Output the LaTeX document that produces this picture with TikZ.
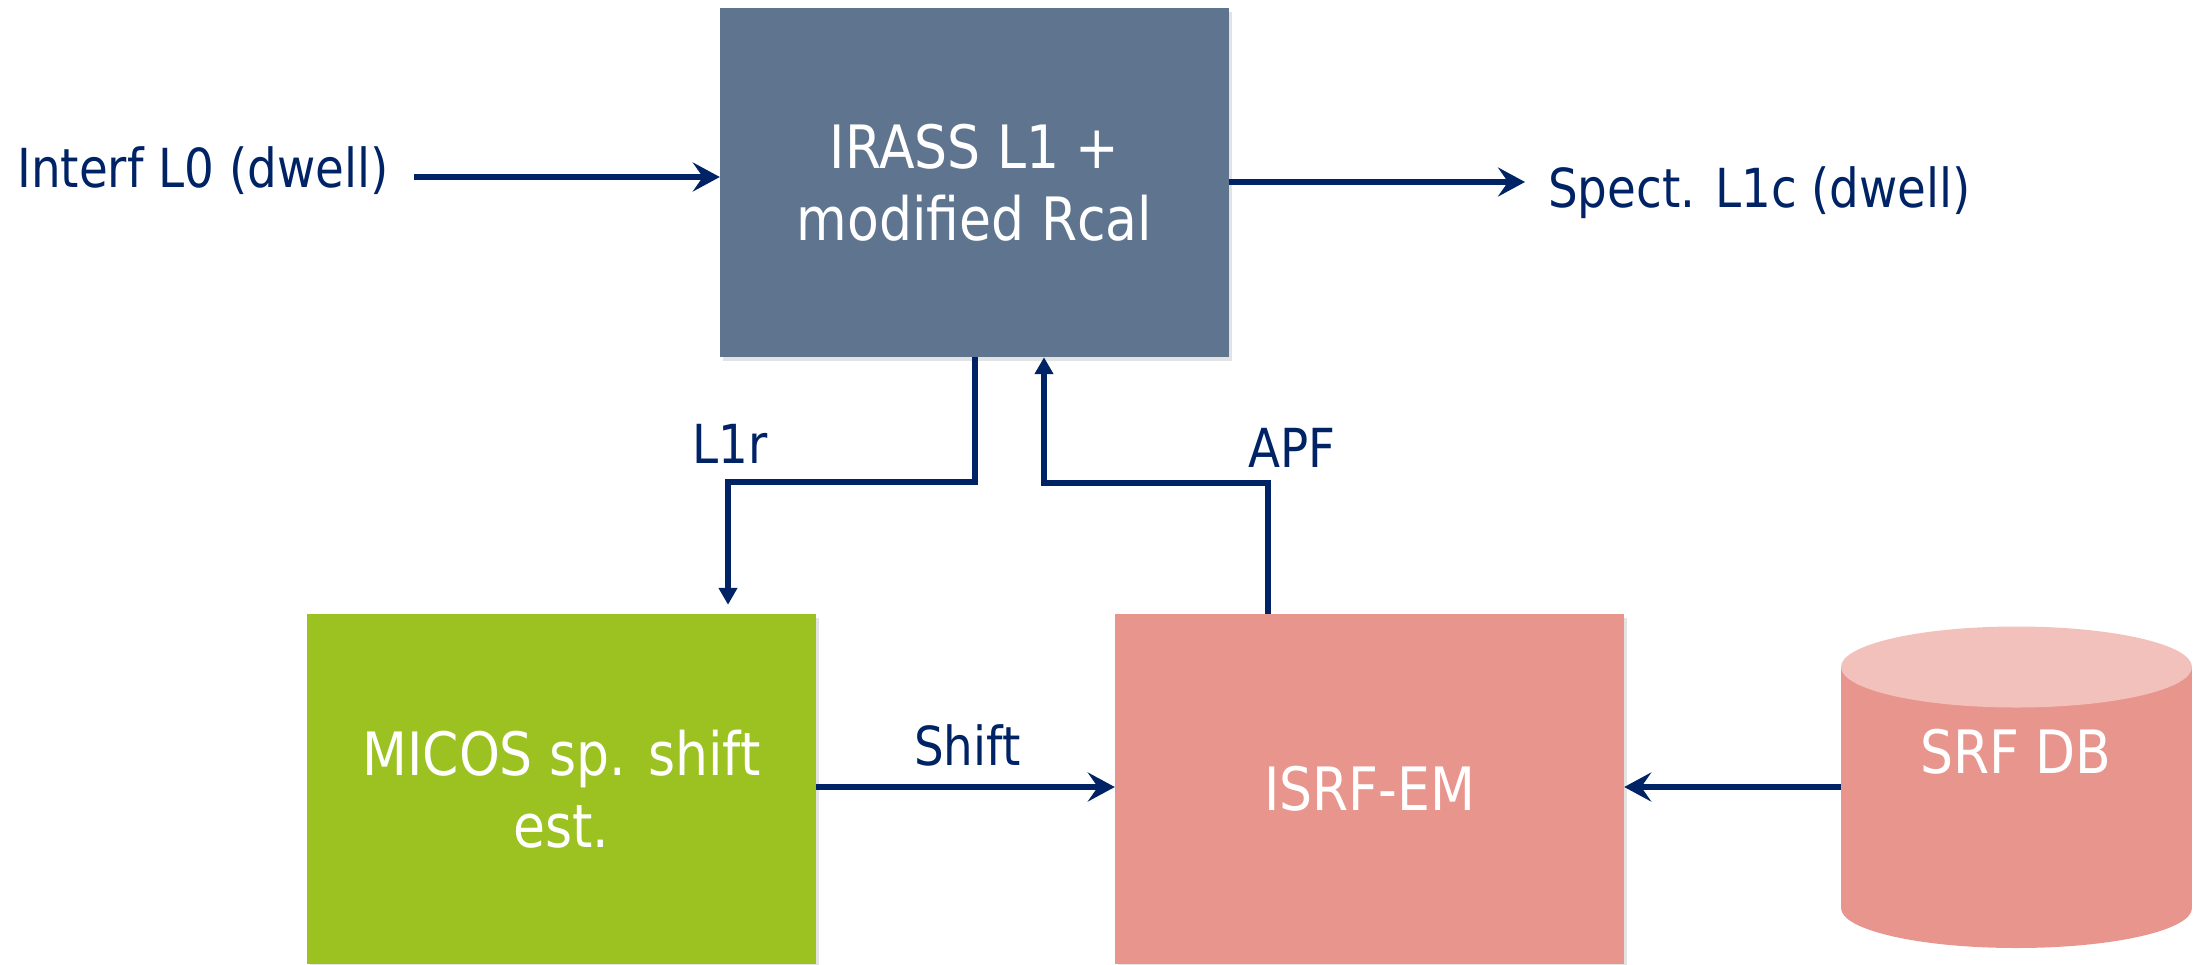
\documentclass[tikz,border=0pt]{standalone}
\usepackage{fontspec}
\setmainfont{DejaVu Sans}[FakeStretch=0.87]
\usetikzlibrary{arrows.meta,shadows}
\definecolor{navy}{RGB}{0,35,102}
\definecolor{slate}{RGB}{95,117,143}
\definecolor{lime}{RGB}{155,194,33}
\definecolor{salmon}{RGB}{232,149,141}
\definecolor{salmontop}{RGB}{242,193,188}
\begin{document}
\begin{tikzpicture}[x=1bp,y=-1bp,
  blockfont/.style={font=\fontsize{60}{72}\selectfont},
  block/.style={rectangle, inner sep=0pt, minimum width=509bp, minimum height=350bp,
    text=white, blockfont, align=center,
    drop shadow={shadow xshift=3bp, shadow yshift=-4bp, opacity=0.22}},
  flowlabel/.style={text=navy, font=\fontsize{54}{66}\selectfont, inner sep=0pt},
  flow/.style={draw=navy, line width=5.5bp},
  harrow/.style={flow, -{Stealth[length=27bp,width=29bp,inset=10bp]}},
  varrow/.style={flow, -{Triangle[length=17bp,width=18bp]}}]
\useasboundingbox (0,0) rectangle (2200,964);

% processing blocks
\node[block, fill=slate, minimum height=349bp] (irass) at (974.5,182.5) {IRASS L1 +\\modified Rcal};
\node[block, fill=lime] (micos) at (561.5,789) {MICOS sp. shift\\est.};
\node[block, fill=salmon] (isrf) at (1369.5,789) {ISRF-EM};

% database cylinder
\node[inner sep=0pt, minimum width=351bp, minimum height=322bp] (srfdb) at (2016.5,787) {};
\fill[salmon] (srfdb.west |- 0,667) rectangle (srfdb.east |- 0,908);
\fill[salmon] (2016.5,908) ellipse [x radius=175.5bp, y radius=40bp];
\fill[salmontop] (2016.5,667) ellipse [x radius=175.5bp, y radius=40.5bp];
\node[text=white, blockfont, inner sep=0pt, anchor=base] (srflabel) at (2016,773) {SRF DB};

% flow labels
\node[flowlabel, anchor=base west] (inl) at (17,187) {Interf L0 (dwell)};
\node[flowlabel, anchor=base west] (outl) at (1548,207) {Spect. L1c (dwell)};
\node[flowlabel, anchor=base west] (l1r) at (692,463) {L1r};
\node[flowlabel, anchor=base west] (apf) at (1248,467) {APF};
\node[flowlabel, anchor=base west] (shiftl) at (914,765) {Shift};

% connectors
\coordinate (inStart) at ([xshift=25bp]inl.east);
\coordinate (outEnd) at ([xshift=-23bp]outl.west);
\coordinate (micosTop) at ([yshift=9bp]micos.north);
\draw[harrow] (inStart |- 0,177) -- (irass.west |- 0,177);
\draw[harrow] (irass.east |- 0,182) -- (outEnd |- 0,182);
\draw[varrow] (irass.south -| 975,0) |- (728,482) -- (micosTop -| 728,0);
\draw[varrow] (isrf.north -| 1268,0) |- (1044,483) -- (irass.south -| 1044,0);
\draw[harrow] (micos.east |- 0,787) -- (isrf.west |- 0,787);
\draw[harrow] (srfdb.west) -- (isrf.east |- srfdb.west);
\end{tikzpicture}
\end{document}
